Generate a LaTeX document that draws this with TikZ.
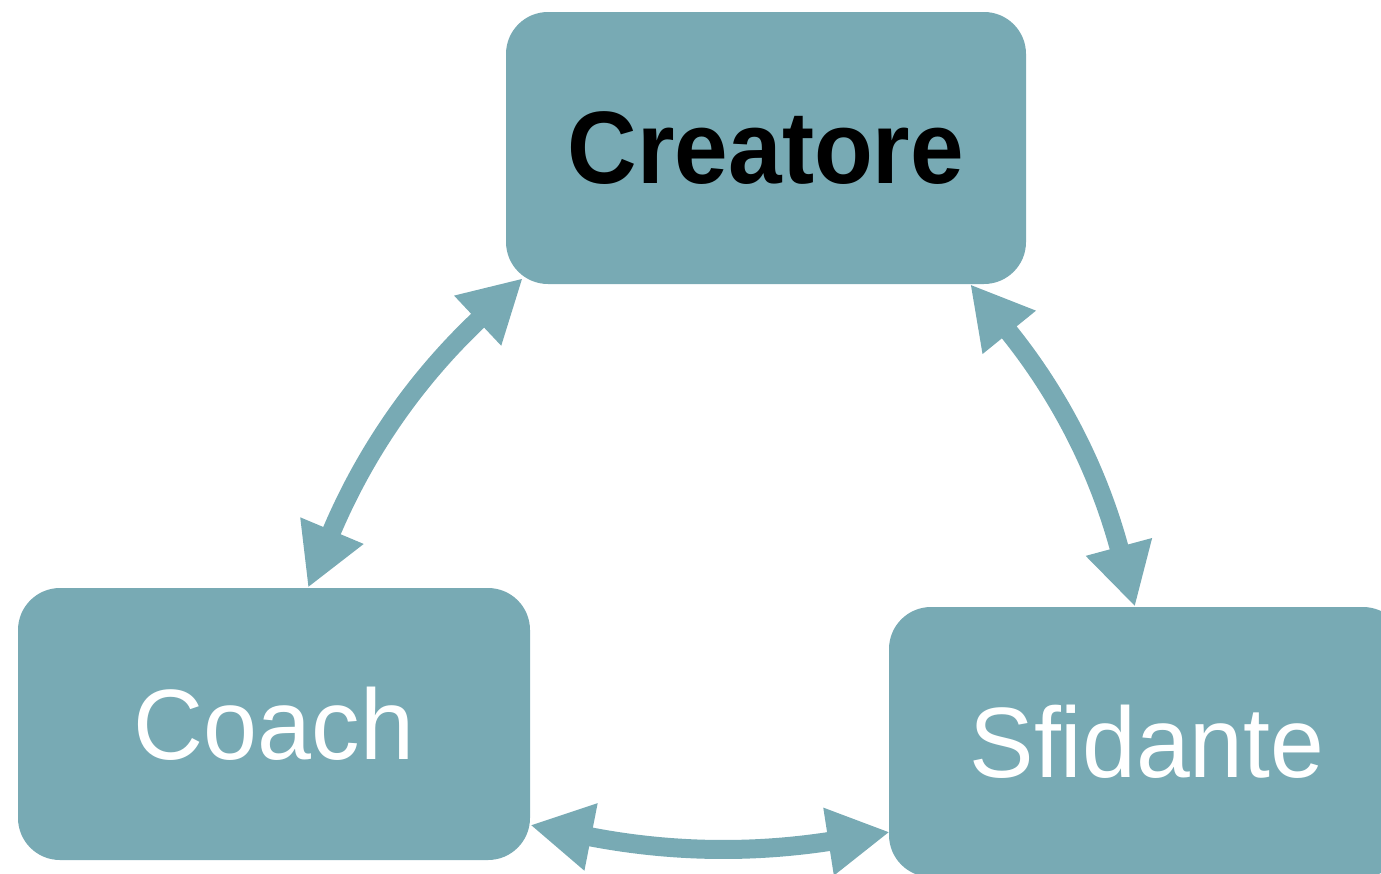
\documentclass[tikz,border=0pt]{standalone}
\usepackage{fontspec}
\setmainfont{Liberation Sans}
\newfontfamily\crefont[FakeStretch=0.935]{Liberation Sans}
\newfontfamily\coafont[FakeStretch=0.97]{Liberation Sans}
\newfontfamily\sfifont[FakeStretch=0.967]{Liberation Sans}
\usetikzlibrary{arrows.meta,calc}
\definecolor{teal1}{HTML}{78AAB4}
\tikzset{
  box/.style={rectangle, rounded corners=42pt, fill=teal1, inner sep=0pt},
  link/.style={draw=teal1, line width=19pt, {Triangle[length=62pt,width=64pt]}-{Triangle[length=62pt,width=64pt]}}
}
\begin{document}
\begin{tikzpicture}[x=1pt,y=-1pt]
\useasboundingbox (0,0) rectangle (1381,873);
\clip (0,0) rectangle (1381,873);
\node[box, minimum width=520pt, minimum height=272pt, font=\crefont\fontsize{103}{110}\selectfont\bfseries, text=black] (cre) at (766,148) {Creatore};
\node[box, minimum width=512pt, minimum height=272pt, font=\coafont\fontsize{100}{110}\selectfont, text=white] (coa) at (274,724) {Coach};
\node[box, minimum width=516pt, minimum height=270pt, font=\sfifont\fontsize{100}{110}\selectfont, text=white] (sfi) at (1147,742) {Sfidante};
\draw[link] ($(cre.south west)+(17,-6)$) to[bend right=12] ($(coa.north)+(34,0)$);
\draw[link] ($(cre.south east)+(-56,0)$) to[bend left=12] ($(sfi.north)+(-12,0)$);
\draw[link] ($(coa.east)+(0,101)$) to[bend right=10] ($(sfi.west)+(1,90)$);
\end{tikzpicture}
\end{document}
